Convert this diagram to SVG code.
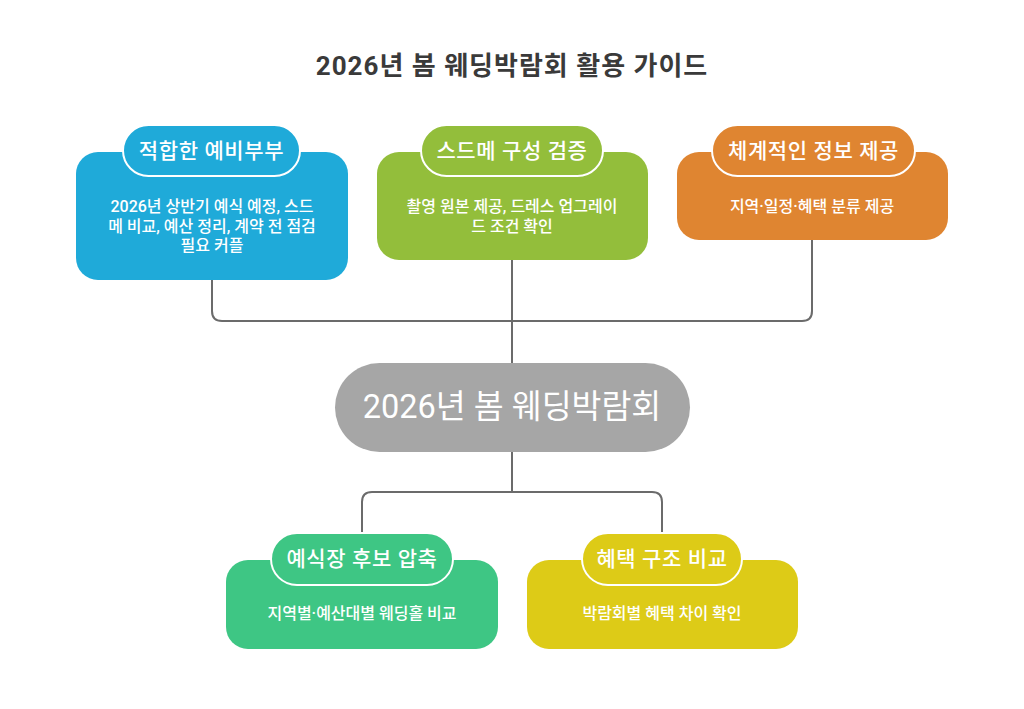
<svg xmlns="http://www.w3.org/2000/svg" width="1024" height="709" viewBox="0 0 1024 709">
<style>
text{font-family:Roboto,"Noto Sans CJK KR","Noto Sans",sans-serif;fill:#fff;text-anchor:middle}
.title{font-size:26px;font-weight:700;fill:#3a3a3a;letter-spacing:1px}
.pill{stroke:#fff;stroke-width:2}
.lab{font-size:21px;font-weight:500;letter-spacing:0.6px}
.body{font-size:16px;font-weight:500}
.hub{font-size:32.5px;font-weight:400}
.conn{fill:none;stroke:#6b6b6b;stroke-width:2}
</style>
<rect width="1024" height="709" fill="#fff"/>
<text class="title" x="512" y="75">2026년 봄 웨딩박람회 활용 가이드</text>
<g id="connectors">
<path class="conn" d="M212 280 V311 Q212 321 222 321 H802 Q812 321 812 311 V240"/>
<path class="conn" d="M512 260 V363"/>
<path class="conn" d="M512 452 V492"/>
<path class="conn" d="M362 533 V502 Q362 492 372 492 H652 Q662 492 662 502 V533"/>
</g>
<g id="hub">
<rect x="335" y="363" width="355" height="89" rx="44.5" fill="#a6a6a6"/>
<text class="hub" x="512" y="418">2026년 봄 웨딩박람회</text>
</g>
<g id="couples">
<rect x="76" y="152" width="272" height="128" rx="22" fill="#1faad9"/>
<rect class="pill" x="123" y="125" width="177" height="51" rx="25.5" fill="#1faad9"/>
<text class="lab" x="211.5" y="157.5">적합한 예비부부</text>
<text class="body" x="212" y="211.5">2026년 상반기 예식 예정, 스드</text>
<text class="body" x="212" y="231.5">메 비교, 예산 정리, 계약 전 점검</text>
<text class="body" x="212" y="250.5">필요 커플</text>
</g>
<g id="sdm">
<rect x="377" y="152" width="271" height="108" rx="22" fill="#93be3b"/>
<rect class="pill" x="421" y="125" width="182" height="51" rx="25.5" fill="#93be3b"/>
<text class="lab" x="512" y="157.5">스드메 구성 검증</text>
<text class="body" x="512" y="211.5">촬영 원본 제공, 드레스 업그레이</text>
<text class="body" x="512" y="231.5">드 조건 확인</text>
</g>
<g id="info">
<rect x="677" y="152" width="271" height="88" rx="22" fill="#df8531"/>
<rect class="pill" x="712" y="125" width="203" height="51" rx="25.5" fill="#df8531"/>
<text class="lab" x="813.5" y="157.5">체계적인 정보 제공</text>
<text class="body" x="812" y="211.5">지역·일정·혜택 분류 제공</text>
</g>
<g id="venue">
<rect x="226" y="560" width="272" height="89" rx="22" fill="#3ec684"/>
<rect class="pill" x="271" y="533" width="182" height="52" rx="26" fill="#3ec684"/>
<text class="lab" x="362" y="565.5">예식장 후보 압축</text>
<text class="body" x="362" y="618.5">지역별·예산대별 웨딩홀 비교</text>
</g>
<g id="benefit">
<rect x="527" y="560" width="271" height="89" rx="22" fill="#ddcb17"/>
<rect class="pill" x="582" y="533" width="160" height="52" rx="26" fill="#ddcb17"/>
<text class="lab" x="662" y="565.5">혜택 구조 비교</text>
<text class="body" x="662" y="618.5">박람회별 혜택 차이 확인</text>
</g>
</svg>
